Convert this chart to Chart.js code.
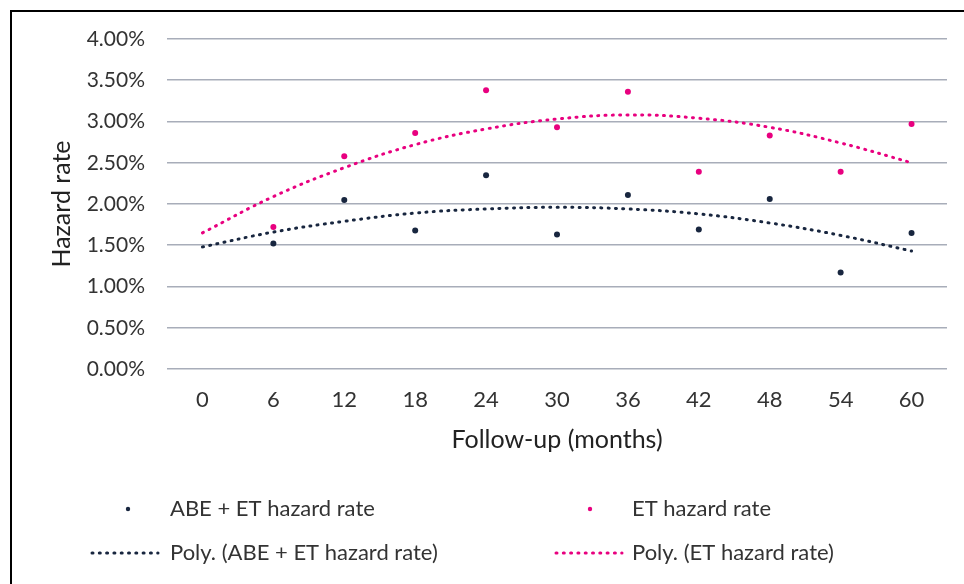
<!DOCTYPE html>
<html>
<head>
<meta charset="utf-8">
<script src="https://cdn.jsdelivr.net/npm/chart.js@4/dist/chart.umd.min.js"></script>
<style>
  html, body { margin: 0; padding: 0; background: #fff; overflow: hidden; }
  #wrap { position: relative; width: 964px; height: 584px; }
  #frame {
    position: absolute; left: 10px; top: 10px; width: 1000px; height: 1000px;
    border-left: 2px solid #000; border-top: 2px solid #000;
  }
  #hazardChart { position: absolute; left: 0; top: 0; }
</style>
</head>
<body>
<div id="wrap">
  <div id="frame"></div>
  <canvas id="hazardChart" width="964" height="584"></canvas>
</div>
<script>
// x categories (months of follow-up)
const months = ["0", "6", "12", "18", "24", "30", "36", "42", "48", "54", "60"];

// observed hazard rates (%), no observation at month 0
const abeEtRate = [null, 1.52, 2.05, 1.68, 2.35, 1.63, 2.11, 1.69, 2.06, 1.17, 1.65];
const etRate    = [null, 1.72, 2.58, 2.86, 3.38, 2.93, 3.36, 2.39, 2.83, 2.39, 2.97];

// polynomial trendlines (%)
const abeEtTrend = [1.48, 1.66, 1.79, 1.89, 1.94, 1.96, 1.94, 1.88, 1.77, 1.62, 1.43];
const etTrend    = [1.65, 2.09, 2.44, 2.72, 2.91, 3.03, 3.08, 3.04, 2.93, 2.74, 2.50];

const yTicks = [0, 0.5, 1, 1.5, 2, 2.5, 3, 3.5, 4];

const NAVY = "#18263f";
const PINK = "#e8007f";
const FONT = "Lato";
const TXT = "#333333";

// legend drawn in two columns below the plot, like the original
const legendPlugin = {
  id: "gridLegend",
  afterDraw(chart) {
    const ctx = chart.ctx;
    const ds = chart.data.datasets;
    const slots = [
      { i: 0, x: 128, y: 509, tx: 170 },
      { i: 1, x: 590, y: 509, tx: 632 },
      { i: 2, x1: 92, x2: 158, y: 553, tx: 170 },
      { i: 3, x1: 556, x2: 622, y: 553, tx: 632 }
    ];
    ctx.save();
    slots.forEach(s => {
      const d = ds[s.i];
      if (s.x !== undefined) {
        ctx.fillStyle = d.backgroundColor;
        ctx.beginPath();
        ctx.arc(s.x, s.y, 2.2, 0, Math.PI * 2);
        ctx.fill();
      } else {
        ctx.strokeStyle = d.borderColor;
        ctx.lineWidth = 3;
        ctx.lineCap = "round";
        ctx.setLineDash([1, 6.3]);
        ctx.beginPath();
        ctx.moveTo(s.x1, s.y);
        ctx.lineTo(s.x2, s.y);
        ctx.stroke();
        ctx.setLineDash([]);
      }
      ctx.fillStyle = TXT;
      ctx.font = "22px " + FONT;
      ctx.textBaseline = "middle";
      ctx.textAlign = "left";
      ctx.fillText(d.label, s.tx, s.y);
    });
    ctx.restore();
  }
};

const ctx = document.getElementById("hazardChart").getContext("2d");
new Chart(ctx, {
  type: "line",
  data: {
    labels: months,
    datasets: [
      {
        label: "ABE + ET hazard rate",
        data: abeEtRate,
        showLine: false,
        pointRadius: 3,
        pointBackgroundColor: NAVY,
        pointBorderWidth: 0,
        backgroundColor: NAVY,
        borderColor: NAVY
      },
      {
        label: "ET hazard rate",
        data: etRate,
        showLine: false,
        pointRadius: 3,
        pointBackgroundColor: PINK,
        pointBorderWidth: 0,
        backgroundColor: PINK,
        borderColor: PINK
      },
      {
        label: "Poly. (ABE + ET hazard rate)",
        data: abeEtTrend,
        borderColor: NAVY,
        borderWidth: 3,
        borderDash: [1, 6.3],
        borderCapStyle: "round",
        pointRadius: 0,
        tension: 0.4,
        fill: false
      },
      {
        label: "Poly. (ET hazard rate)",
        data: etTrend,
        borderColor: PINK,
        borderWidth: 3,
        borderDash: [1, 6.3],
        borderCapStyle: "round",
        pointRadius: 0,
        tension: 0.4,
        fill: false
      }
    ]
  },
  options: {
    responsive: false,
    animation: false,
    layout: { padding: { top: 39, right: 17, left: 0, bottom: 0 } },
    plugins: {
      legend: { display: false },
      tooltip: { enabled: false }
    },
    scales: {
      x: {
        offset: true,
        grid: { display: false, drawTicks: false },
        border: { display: false },
        ticks: { color: TXT, font: { family: FONT, size: 22 }, padding: 18, maxRotation: 0 },
        title: {
          display: true,
          text: "Follow-up (months)",
          color: "#222222",
          font: { family: FONT, size: 25 },
          padding: { top: 0, bottom: 129 }
        },
        afterFit(scale) { scale.height = 584 - 369; }
      },
      y: {
        min: 0,
        max: 4,
        afterBuildTicks(scale) { scale.ticks = yTicks.map(v => ({ value: v })); },
        grid: { color: "#a8adb9", lineWidth: 1.6, drawTicks: false },
        border: { display: false },
        ticks: {
          color: TXT,
          font: { family: FONT, size: 21 },
          padding: 22,
          callback: v => v.toFixed(2) + "%"
        },
        title: {
          display: true,
          text: "Hazard rate",
          color: "#222222",
          font: { family: FONT, size: 25 },
          padding: { top: 47, bottom: 0 }
        },
        afterFit(scale) { scale.width = 167; }
      }
    }
  },
  plugins: [legendPlugin]
});
</script>
</body>
</html>
